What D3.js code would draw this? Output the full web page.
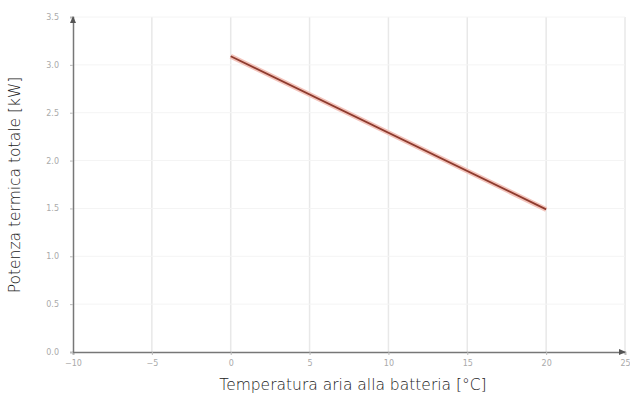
<!DOCTYPE html>
<html><head><meta charset="utf-8">
<script src="https://cdn.jsdelivr.net/npm/d3@7"></script>
<style>body{margin:0;background:#fff}svg{display:block}</style>
</head><body>
<svg id="c" width="630" height="403"></svg>
<script>
const xTicks = [-10, -5, 0, 5, 10, 15, 20, 25];
const yTicks = [0, 0.5, 1.0, 1.5, 2.0, 2.5, 3.0, 3.5];
const lineTemp = [0, 20];
const linePower = [3.09, 1.49];
const xTitle = "Temperatura aria alla batteria [°C]";
const yTitle = "Potenza termica totale [kW]";

const svg = d3.select("#c");
const x = d3.scaleLinear().domain([-10, 25]).range([73, 625]);
const y = d3.scaleLinear().domain([0, 3.5]).range([352, 17]);

// vertical grid
svg.append("g").selectAll("line").data(xTicks.slice(1)).join("line")
  .attr("x1", d => x(d)).attr("x2", d => x(d)).attr("y1", 17).attr("y2", 352)
  .attr("stroke", "#e8e8e8").attr("stroke-width", 1.5);
// horizontal grid (faint)
svg.append("g").selectAll("line").data(yTicks.slice(1)).join("line")
  .attr("x1", 73).attr("x2", 625).attr("y1", d => y(d)).attr("y2", d => y(d))
  .attr("stroke", "#f4f4f4").attr("stroke-width", 1);

// axes
const ax = svg.append("g").attr("transform", "translate(0,352)")
  .call(d3.axisBottom(x).tickValues(xTicks).tickSize(3).tickFormat(d3.format("d")));
ax.select(".domain").attr("stroke", "#777").attr("stroke-width", 1.5);
ax.selectAll(".tick line").attr("stroke", "#bbb");
ax.selectAll("text").attr("fill", "#aaa").attr("font-size", 8).attr("font-family", "DejaVu Sans").attr("dy", "1em");

const ay = svg.append("g").attr("transform", "translate(73,0)")
  .call(d3.axisLeft(y).tickValues(yTicks).tickSize(3).tickFormat(d3.format(".1f")));
ay.select(".domain").attr("stroke", "#777").attr("stroke-width", 1.5);
ay.selectAll(".tick line").attr("stroke", "#bbb");
ay.selectAll("text").attr("fill", "#aaa").attr("font-size", 8).attr("font-family", "DejaVu Sans").attr("dx", "-1em");

// arrows
svg.append("path").attr("d", `M${x(25)+1},352 l-7,-3 l0,6 z`).attr("fill", "#555");
svg.append("path").attr("d", `M73,${y(3.5)-1} l-3,7 l6,0 z`).attr("fill", "#555");

// line
const pts = lineTemp.map((t, i) => [x(t), y(linePower[i])]);
const gen = d3.line();
svg.append("path").attr("d", gen(pts)).attr("stroke", "#f3c4bc").attr("stroke-width", 5).attr("fill", "none");
svg.append("path").attr("d", gen(pts)).attr("stroke", "#8e3b2e").attr("stroke-width", 1.8).attr("fill", "none");

// titles
svg.append("text").attr("x", 353).attr("y", 390).attr("text-anchor", "middle")
  .attr("font-family", "DejaVu Sans").attr("font-weight", 300).attr("font-size", 15.5).attr("fill", "#222").text(xTitle);
svg.append("text").attr("transform", "translate(20,185) rotate(-90)").attr("text-anchor", "middle")
  .attr("font-family", "DejaVu Sans").attr("font-weight", 300).attr("font-size", 15.5).attr("fill", "#222").text(yTitle);
</script>
</body></html>
